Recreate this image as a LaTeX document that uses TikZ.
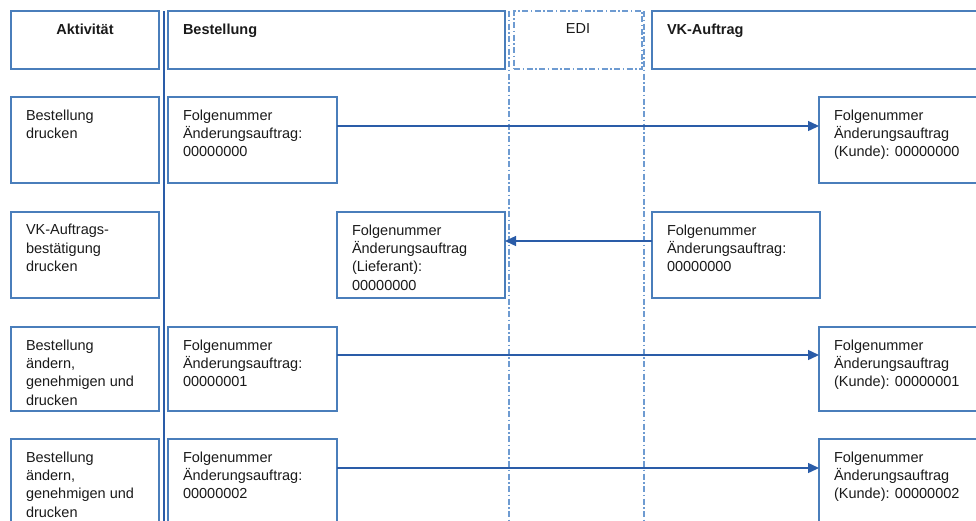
\documentclass[tikz,border=0pt]{standalone}
\usepackage{fontspec}
\setmainfont{Liberation Sans}
\usetikzlibrary{arrows.meta}
\definecolor{boxblue}{HTML}{4A7EBB}
\definecolor{lineblue}{HTML}{2A5CA8}
\definecolor{ediblue}{HTML}{6E9BD1}
\definecolor{txtcol}{HTML}{1A1A1A}
\newcommand{\cbox}[3]{\parbox[c][#2][t]{#1}{\fontsize{14.5}{18.4}\selectfont\raggedright\vspace*{12.5pt}#3}}
\begin{document}
\begin{tikzpicture}[x=1pt,y=-1pt,
  cell/.style={draw=boxblue, line width=1.4pt, inner xsep=15pt, inner ysep=0pt, outer sep=0pt, anchor=north west, text=txtcol},
  edibox/.style={draw=ediblue, line width=1.4pt, dash pattern=on 6pt off 2.5pt on 1.5pt off 2.5pt, inner xsep=15pt, inner ysep=0pt, outer sep=0pt, anchor=north west, text=txtcol},
  ediline/.style={draw=ediblue, line width=1.4pt, dash pattern=on 6pt off 2.5pt on 1.5pt off 2.5pt},
  lane/.style={draw=lineblue, line width=2.6pt},
  arr/.style={-{Triangle[length=11pt,width=10pt]}, line width=1.4pt, draw=lineblue}]
\useasboundingbox (0,0) rectangle (976,520);
\clip (0,0) rectangle (976,520);

% lane separators
\coordinate (laneTop) at (164,11);
\coordinate (laneBot) at (164,525);
\draw[lane] (laneTop) -- (laneBot);
\coordinate (ediLTop) at (509,11);
\coordinate (ediLBot) at (509,525);
\coordinate (ediRTop) at (644,11);
\coordinate (ediRBot) at (644,525);
\draw[ediline] (ediLTop) -- (ediLBot);
\draw[ediline] (ediRTop) -- (ediRBot);

% headers
\node[cell] (hA) at (11,11) {\cbox{118pt}{58pt}{\centering\bfseries Aktivität}};
\node[cell] (hB) at (168,11) {\cbox{307pt}{58pt}{\bfseries Bestellung}};
\node[edibox] (hE) at (514,11) {\cbox{98pt}{58pt}{\centering EDI}};
\node[cell] (hV) at (652,11) {\cbox{315pt}{58pt}{\bfseries VK-Auftrag}};

% row 1
\node[cell] (a1) at (11,97) {\cbox{118pt}{86pt}{Bestellung\\drucken}};
\node[cell] (b1) at (168,97) {\cbox{139pt}{86pt}{Folgenummer\\Änderungsauftrag:\\00000000}};
\node[cell] (k1) at (819,97) {\cbox{150pt}{86pt}{Folgenummer\\Änderungsauftrag\\(Kunde): 00000000}};

% row 2
\node[cell] (a2) at (11,212) {\cbox{118pt}{86pt}{VK-Auftrags-\\bestätigung\\drucken}};
\node[cell] (l2) at (337,212) {\cbox{138pt}{86pt}{Folgenummer\\Änderungsauftrag\\(Lieferant):\\00000000}};
\node[cell] (v2) at (652,212) {\cbox{138pt}{86pt}{Folgenummer\\Änderungsauftrag:\\00000000}};

% row 3
\node[cell] (a3) at (11,327) {\cbox{118pt}{84pt}{Bestellung\\ändern,\\genehmigen und\\drucken}};
\node[cell] (b3) at (168,327) {\cbox{139pt}{84pt}{Folgenummer\\Änderungsauftrag:\\00000001}};
\node[cell] (k3) at (819,327) {\cbox{150pt}{84pt}{Folgenummer\\Änderungsauftrag\\(Kunde): 00000001}};

% row 4
\node[cell] (a4) at (11,439) {\cbox{118pt}{100pt}{Bestellung\\ändern,\\genehmigen und\\drucken}};
\node[cell] (b4) at (168,439) {\cbox{139pt}{100pt}{Folgenummer\\Änderungsauftrag:\\00000002}};
\node[cell] (k4) at (819,439) {\cbox{150pt}{100pt}{Folgenummer\\Änderungsauftrag\\(Kunde): 00000002}};

% arrows
\draw[arr] ([yshift=-29pt]b1.north east) -- ([yshift=-29pt]k1.north west);
\draw[arr] ([yshift=-29pt]v2.north west) -- ([yshift=-29pt]l2.north east);
\draw[arr] ([yshift=-28pt]b3.north east) -- ([yshift=-28pt]k3.north west);
\draw[arr] ([yshift=-29pt]b4.north east) -- ([yshift=-29pt]k4.north west);
\end{tikzpicture}
\end{document}
